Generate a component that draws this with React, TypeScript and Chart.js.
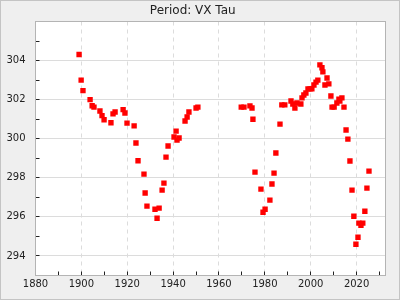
import { useEffect, useRef } from 'react';
import { Chart, registerables } from 'chart.js';

Chart.register(...registerables);

const chartTitle = 'Period: VX Tau';

const years = [
  1899.0, 1899.9, 1900.7, 1903.8, 1904.7, 1905.5, 1908.1, 1909.0, 1909.9, 1912.9,
  1913.8, 1914.7, 1918.2, 1919.0, 1919.9, 1923.0, 1923.8, 1924.7, 1927.3, 1927.8,
  1928.6, 1932.1, 1933.0, 1933.9, 1935.2, 1936.0, 1936.9, 1937.8, 1940.4, 1941.3,
  1941.7, 1942.6, 1945.2, 1946.1, 1946.9, 1950.0, 1950.8, 1969.7, 1970.9, 1973.5,
  1974.4, 1974.8, 1975.7, 1978.3, 1979.2, 1980.1, 1982.2, 1983.1, 1984.0, 1984.8,
  1986.6, 1987.4, 1988.7, 1991.4, 1992.2, 1993.1, 1994.0, 1995.7, 1996.2, 1997.0,
  1997.9, 1998.8, 1999.7, 2000.5, 2001.4, 2002.3, 2003.1, 2004.0, 2004.9, 2005.3,
  2006.2, 2007.1, 2007.9, 2008.8, 2009.3, 2010.2, 2011.4, 2012.3, 2012.7, 2013.6,
  2014.5, 2015.4, 2016.2, 2017.1, 2018.0, 2018.8, 2019.7, 2020.6, 2021.0, 2021.9,
  2022.7, 2023.6, 2024.5, 2025.4,
];

const periods = [
  304.31, 303.0, 302.46, 302.0, 301.69, 301.62, 301.42, 301.18, 300.97, 300.82,
  301.27, 301.37, 301.49, 301.32, 300.8, 300.66, 299.78, 298.87, 298.19, 297.22,
  296.55, 296.39, 295.93, 296.45, 297.37, 297.73, 299.06, 299.63, 300.09, 300.39,
  299.93, 300.04, 300.91, 301.11, 301.37, 301.57, 301.62, 301.62, 301.62, 301.68,
  301.57, 301.0, 298.29, 297.42, 296.24, 296.39, 296.86, 297.68, 298.24, 299.27,
  300.75, 301.73, 301.73, 301.93, 301.78, 301.57, 301.83, 301.78, 302.09, 302.24,
  302.34, 302.55, 302.55, 302.55, 302.75, 302.9, 303.0, 303.78, 303.63, 303.42,
  302.75, 303.11, 302.81, 302.19, 301.62, 301.62, 301.83, 302.03, 301.93, 302.09,
  301.62, 300.45, 299.98, 298.86, 297.37, 296.03, 294.6, 294.96, 295.68, 295.57,
  295.68, 296.29, 297.47, 298.34,
];

const xMin = 1880;
const xMax = 2032.6;
const xMajorStep = 20;
const xMinorStep = 10;
const yMin = 293;
const yMax = 306;
const yMajorStep = 2;
const yMinorStep = 1;

const FONT = "'DejaVu Sans', sans-serif";

const framePlugin = {
  id: 'frame',
  beforeDraw(chart: any) {
    const { ctx, width, height, chartArea: a } = chart;
    ctx.save();
    ctx.fillStyle = '#efefef';
    ctx.fillRect(0, 0, width, height);
    ctx.strokeStyle = '#c4c4c4';
    ctx.lineWidth = 1;
    ctx.strokeRect(0.5, 0.5, width - 1, height - 1);
    ctx.fillStyle = '#ffffff';
    ctx.fillRect(a.left, a.top, a.right - a.left, a.bottom - a.top);
    ctx.restore();
  },
  beforeDatasetsDraw(chart: any) {
    const { ctx, chartArea: a, scales } = chart;
    const xs = scales.x;
    const ys = scales.y;
    ctx.save();
    ctx.lineWidth = 1;
    // horizontal solid grid
    ctx.strokeStyle = '#dcdcdc';
    ctx.setLineDash([]);
    for (let v = yMin; v < yMax; v += yMinorStep) {
      if (v % yMajorStep !== 0) continue;
      const y = Math.floor(ys.getPixelForValue(v)) + 0.5;
      ctx.beginPath();
      ctx.moveTo(a.left, y);
      ctx.lineTo(a.right, y);
      ctx.stroke();
    }
    // vertical dashed grid
    ctx.setLineDash([4, 4]);
    for (let v = xMin; v <= xMax; v += xMinorStep) {
      if (v % xMajorStep !== 0 || v === xMin) continue;
      const x = Math.floor(xs.getPixelForValue(v)) + 0.5;
      ctx.beginPath();
      ctx.moveTo(x, a.top);
      ctx.lineTo(x, a.bottom);
      ctx.stroke();
    }
    ctx.setLineDash([]);
    // inner tick marks
    ctx.strokeStyle = '#222';
    for (let v = xMin; v <= xMax; v += xMinorStep) {
      const x = Math.floor(xs.getPixelForValue(v)) + 0.5;
      ctx.beginPath();
      ctx.moveTo(x, a.bottom);
      ctx.lineTo(x, a.bottom - 4);
      ctx.stroke();
    }
    for (let v = yMin; v < yMax; v += yMinorStep) {
      const y = Math.floor(ys.getPixelForValue(v)) + 0.5;
      ctx.beginPath();
      ctx.moveTo(a.left, y);
      ctx.lineTo(a.left + 4, y);
      ctx.stroke();
    }
    // plot border
    ctx.strokeStyle = '#b4b4b4';
    ctx.strokeRect(a.left, a.top, a.right - a.left, a.bottom - a.top);
    ctx.restore();
  },
};

export default function App() {
  const ref = useRef<HTMLCanvasElement | null>(null);

  useEffect(() => {
    if (!ref.current) return;
    const points = years.map((yr, i) => ({ x: yr, y: periods[i] }));
    const chart = new Chart(ref.current, {
      type: 'scatter',
      data: {
        datasets: [
          {
            data: points,
            pointStyle: 'rect',
            pointRadius: 3.8,
            pointBorderWidth: 0,
            backgroundColor: '#ff0000',
            borderColor: '#ff0000',
          },
        ],
      },
      options: {
        responsive: false,
        animation: false,
        layout: { padding: { top: 0, left: 0, right: 14.5, bottom: 0 } },
        plugins: {
          legend: { display: false },
          tooltip: { enabled: false },
          title: {
            display: true,
            text: chartTitle,
            color: '#222',
            font: { family: FONT, size: 12, weight: 'normal', lineHeight: 1.2 },
            padding: { top: 4, bottom: 3.1 },
          },
        },
        scales: {
          x: {
            type: 'linear',
            min: xMin,
            max: xMax,
            afterFit: (s: any) => {
              s.height = 24.5;
            },
            grid: { display: false, drawTicks: false },
            border: { display: false },
            ticks: {
              stepSize: xMinorStep,
              autoSkip: false,
              maxRotation: 0,
              includeBounds: false,
              padding: 3,
              color: '#222',
              font: { family: FONT, size: 10 },
              callback: (v: any) => (Number(v) % xMajorStep === 0 ? String(v) : ''),
            },
          },
          y: {
            type: 'linear',
            min: yMin,
            max: yMax,
            afterFit: (s: any) => {
              s.width = 35.5;
            },
            grid: { display: false, drawTicks: false },
            border: { display: false },
            ticks: {
              stepSize: yMinorStep,
              autoSkip: false,
              includeBounds: false,
              padding: 10,
              color: '#222',
              font: { family: FONT, size: 10 },
              callback: (v: any) =>
                Number(v) % yMajorStep === 0 && Number(v) < yMax ? String(v) : '',
            },
          },
        },
      },
      plugins: [framePlugin],
    });
    return () => chart.destroy();
  }, []);

  return (
    <div style={{ position: 'fixed', left: 0, top: 0, width: 400, height: 300 }}>
      <canvas ref={ref} width={400} height={300} style={{ display: 'block' }} />
    </div>
  );
}
